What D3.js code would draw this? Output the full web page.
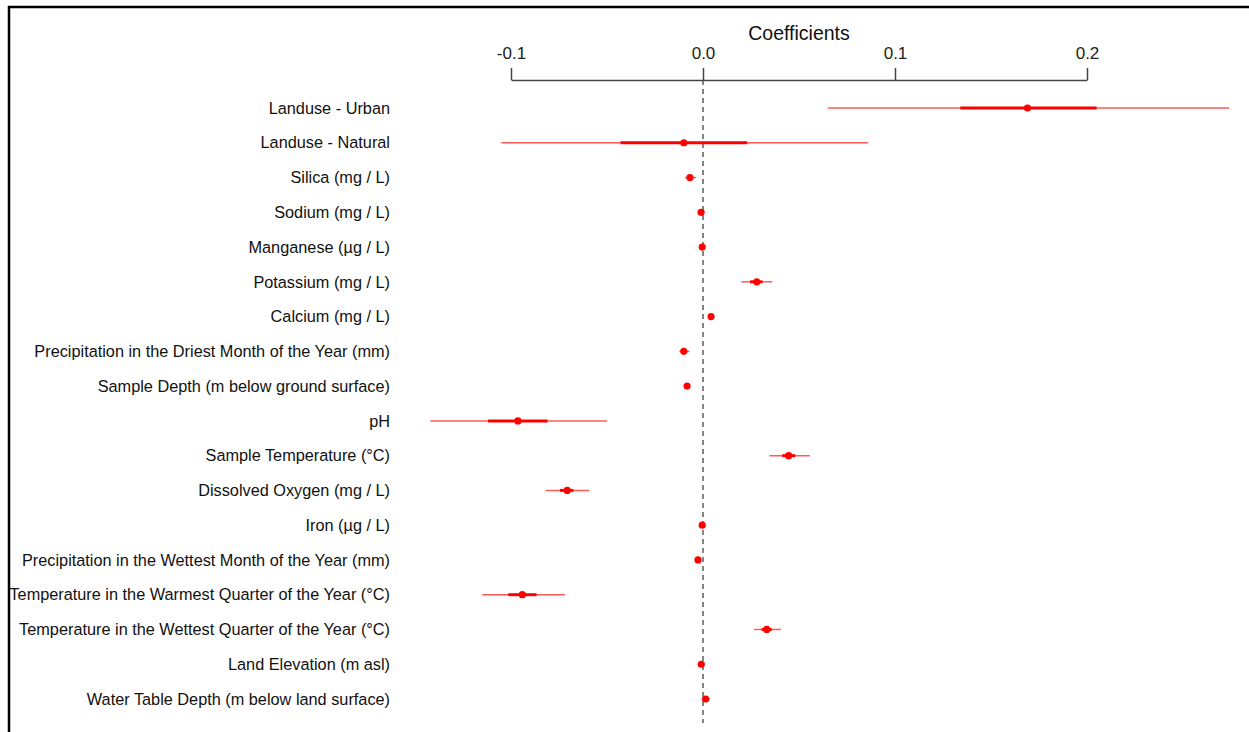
<!DOCTYPE html>
<html>
<head>
<meta charset="utf-8">
<script src="https://cdn.jsdelivr.net/npm/d3@7"></script>
<style>
  body { margin: 0; background: #fff; }
  svg { font-family: "Liberation Sans", Arial, sans-serif; }
</style>
</head>
<body>
<div id="chart"></div>
<script>
(() => {

  // variables, top to bottom
  let labels = [
    'Landuse - Urban',
    'Landuse - Natural',
    'Silica (mg / L)',
    'Sodium (mg / L)',
    'Manganese (\u00b5g / L)',
    'Potassium (mg / L)',
    'Calcium (mg / L)',
    'Precipitation in the Driest Month of the Year (mm)',
    'Sample Depth (m below ground surface)',
    'pH',
    'Sample Temperature (\u00b0C)',
    'Dissolved Oxygen (mg / L)',
    'Iron (\u00b5g / L)',
    'Precipitation in the Wettest Month of the Year (mm)',
    'Temperature in the Warmest Quarter of the Year (\u00b0C)',
    'Temperature in the Wettest Quarter of the Year (\u00b0C)',
    'Land Elevation (m asl)',
    'Water Table Depth (m below land surface)'
  ];

  // point estimates
  let coef = [0.169, -0.010, -0.0068, -0.001, -0.0004, 0.028, 0.0042, -0.010, -0.0083,
    -0.0964, 0.0446, -0.0707, -0.0004, -0.0026, -0.0941, 0.0332, -0.0009, 0.0014];

  // +/- 1 se (thick) and +/- 2 se (thin) intervals
  let lo1 = [0.134, -0.043, -0.0080, -0.0016, -0.0008, 0.0245, 0.0036, -0.0112, -0.0090,
    -0.112, 0.0413, -0.0745, -0.0008, -0.0032, -0.1014, 0.0306, -0.0014, 0.0002];
  let hi1 = [0.205, 0.023, -0.0055, -0.0004, 0.0000, 0.031, 0.0048, -0.0088, -0.0076,
    -0.081, 0.048, -0.0675, 0.0000, -0.0020, -0.0867, 0.0358, -0.0004, 0.0026];
  let lo2 = [0.065, -0.105, -0.0094, -0.0022, -0.0012, 0.020, 0.0030, -0.0123, -0.0097,
    -0.142, 0.0345, -0.082, -0.0012, -0.0038, -0.115, 0.0266, -0.0019, -0.0008];
  let hi2 = [0.274, 0.086, -0.0036, 0.0002, 0.0004, 0.036, 0.0054, -0.0071, -0.0069,
    -0.050, 0.0556, -0.0593, 0.0004, -0.0014, -0.0719, 0.0406, 0.0001, 0.0036];

  let ticks = [-0.1, 0.0, 0.1, 0.2];

  let width = 1249;
  let height = 732;

  let data = labels.map((name, i) => ({
    name, coef: coef[i], lo1: lo1[i], hi1: hi1[i], lo2: lo2[i], hi2: hi2[i]
  }));

  let svg = d3.select('#chart')
    .append('svg')
    .attr('width', width)
    .attr('height', height);

  // frame round the figure (right & bottom edges fall outside the crop)
  svg.append('path')
    .attr('d', 'M9,' + height + 'V7H' + width)
    .attr('fill', 'none')
    .attr('stroke', '#000')
    .attr('stroke-width', 2.5);

  let xScale = d3.scaleLinear()
    .domain([-0.1, 0.2])
    .range([511, 1087]);

  let yScale = d3.scalePoint()
    .domain(labels)
    .range([108, 699]);

  let axisY = 80;

  let xAxis = d3.axisTop(xScale)
    .tickValues(ticks)
    .tickFormat(d => d.toFixed(1))
    .tickSize(12)
    .tickSizeOuter(0)
    .tickPadding(9);

  let gx = svg.append('g')
    .attr('transform', `translate(0, ${axisY})`)
    .call(xAxis);

  gx.select('.domain').attr('stroke', '#444').attr('stroke-width', 1.5);
  gx.selectAll('.tick line').attr('stroke', '#444').attr('stroke-width', 1.5);
  gx.selectAll('.tick text')
    .attr('fill', '#222')
    .style('font-size', '17px')
    .style('font-family', '"Liberation Sans", Arial, sans-serif');

  svg.append('text')
    .attr('x', xScale(0.05))
    .attr('y', 40)
    .attr('text-anchor', 'middle')
    .style('font-size', '19.5px')
    .attr('fill', '#111')
    .text('Coefficients');

  // zero reference
  svg.append('line')
    .attr('x1', xScale(0)).attr('x2', xScale(0))
    .attr('y1', axisY).attr('y2', 723)
    .attr('stroke', '#444')
    .attr('stroke-width', 1.3)
    .attr('stroke-dasharray', '5,4');

  // variable names
  svg.append('g')
    .selectAll('text')
    .data(data)
    .enter()
    .append('text')
    .attr('x', 390)
    .attr('y', d => yScale(d.name))
    .attr('dy', '0.35em')
    .attr('text-anchor', 'end')
    .style('font-size', '16.3px')
    .attr('fill', '#111')
    .text(d => d.name);

  let rows = svg.append('g')
    .selectAll('.row')
    .data(data)
    .enter()
    .append('g')
    .attr('class', 'row')
    .attr('transform', d => `translate(0, ${yScale(d.name)})`);

  //thin = 2 se
  rows.append('line')
    .attr('x1', d => xScale(d.lo2))
    .attr('x2', d => xScale(d.hi2))
    .attr('stroke', 'red')
    .attr('stroke-opacity', 0.65)
    .attr('stroke-width', 1.5);

  //thick = 1 se
  rows.append('line')
    .attr('x1', d => xScale(d.lo1))
    .attr('x2', d => xScale(d.hi1))
    .attr('stroke', 'red')
    .attr('stroke-width', 3);

  rows.append('circle')
    .attr('cx', d => xScale(d.coef))
    .attr('cy', 0)
    .attr('r', 3.6)
    .style('fill', 'red');

})()
</script>
</body>
</html>
